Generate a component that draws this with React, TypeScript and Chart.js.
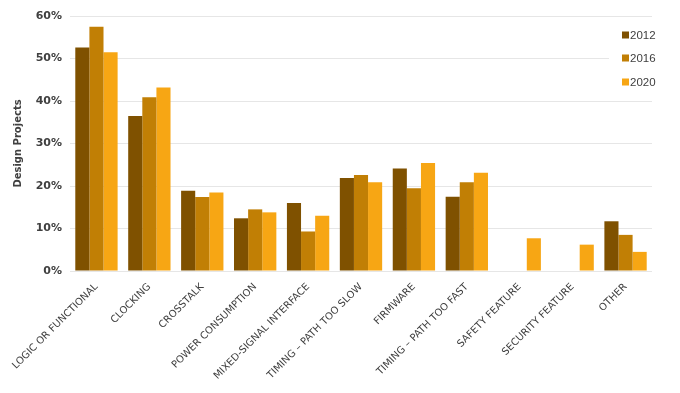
import React, { useEffect, useRef } from "react";
import { Chart, registerables } from "chart.js";

Chart.register(...registerables);

const categories = [
  "LOGIC OR FUNCTIONAL",
  "CLOCKING",
  "CROSSTALK",
  "POWER CONSUMPTION",
  "MIXED-SIGNAL INTERFACE",
  "TIMING – PATH TOO SLOW",
  "FIRMWARE",
  "TIMING – PATH TOO FAST",
  "SAFETY FEATURE",
  "SECURITY FEATURE",
  "OTHER",
];

const series2012 = [52.6, 36.5, 18.9, 12.4, 16.0, 21.9, 24.1, 17.5, null, null, 11.7];
const series2016 = [57.5, 40.9, 17.4, 14.5, 9.3, 22.6, 19.5, 20.9, null, null, 8.5];
const series2020 = [51.5, 43.2, 18.5, 13.8, 13.0, 20.9, 25.4, 23.1, 7.7, 6.2, 4.5];

const seriesLabels = ["2012", "2016", "2020"];
const seriesColors = ["#7F5100", "#C17F05", "#F7A614"];

const legendPlugin = {
  id: "customLegend",
  afterDraw(chart: any) {
    const ctx = chart.ctx;
    ctx.save();
    const x = 622;
    const ys = [35, 58, 82];
    ctx.fillStyle = "#ffffff";
    ctx.fillRect(609, 26, 50, 66);
    chart.data.datasets.forEach((ds: any, i: number) => {
      ctx.fillStyle = ds.backgroundColor;
      ctx.fillRect(x, ys[i] - 3.5, 7, 7);
      ctx.fillStyle = "#404040";
      ctx.font = "11.5px 'Liberation Sans', sans-serif";
      ctx.textBaseline = "middle";
      ctx.textAlign = "left";
      ctx.fillText(ds.label, x + 8, ys[i] + 0.5);
    });
    ctx.restore();
  },
};

export default function App() {
  const ref = useRef<HTMLCanvasElement | null>(null);
  useEffect(() => {
    document.body.style.margin = "0";
    const data = [series2012, series2016, series2020];
    const chart = new Chart(ref.current as HTMLCanvasElement, {
      type: "bar",
      data: {
        labels: categories,
        datasets: data.map((d, i) => ({
          label: seriesLabels[i],
          data: d,
          backgroundColor: seriesColors[i],
          categoryPercentage: 0.8,
          barPercentage: 1.0,
        })),
      },
      options: {
        animation: false,
        responsive: false,
        maintainAspectRatio: false,
        layout: { padding: { top: 16, right: 28, left: 12, bottom: 0 } },
        plugins: {
          legend: { display: false },
          tooltip: { enabled: false },
        },
        scales: {
          x: {
            grid: { display: false },
            border: { display: false },
            ticks: {
              color: "#404040",
              font: { family: "'DejaVu Sans', sans-serif", size: 10 },
              minRotation: 45,
              maxRotation: 45,
              autoSkip: false,
              padding: 2,
            },
            afterFit(scale: any) {
              scale.height = 122;
            },
          },
          y: {
            min: 0,
            max: 60,
            border: { display: false },
            grid: { color: "#e6e6e6", drawTicks: false },
            ticks: {
              stepSize: 10,
              color: "#404040",
              padding: 8,
              font: { family: "'DejaVu Sans', sans-serif", size: 11, weight: "bold" },
              callback: (v: any) => v + "%",
            },
            title: {
              display: true,
              text: "Design Projects",
              color: "#404040",
              font: { family: "'DejaVu Sans', sans-serif", size: 10, weight: "bold" },
              padding: { top: 0, bottom: 4 },
            },
            afterFit(scale: any) {
              scale.width = 58;
            },
          },
        },
      },
      plugins: [legendPlugin],
    });
    return () => chart.destroy();
  }, []);
  return (
    <div style={{ width: 680, height: 393 }}>
      <canvas ref={ref} width={680} height={393} style={{ display: "block" }} />
    </div>
  );
}
